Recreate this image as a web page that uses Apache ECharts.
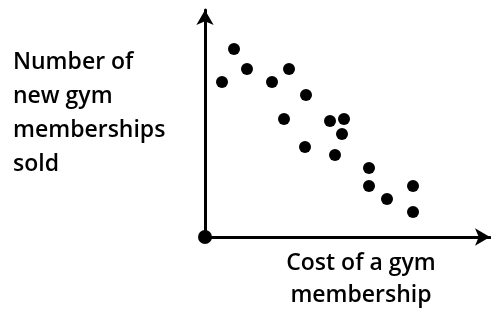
<!DOCTYPE html>
<html>
<head>
<meta charset="utf-8">
<script src="https://cdn.jsdelivr.net/npm/echarts@6/dist/echarts.min.js"></script>
<style>
  html, body { margin: 0; padding: 0; background: #fff; }
  #chart { width: 491px; height: 313px; }
</style>
</head>
<body>
<div id="chart"></div>
<script>
// cost (x) vs new memberships sold (y) in axis units
const cost = [17, 29, 42, 67, 84, 101, 79, 125, 139, 137, 100, 130, 164, 164, 182, 208, 208];
const sold = [155, 188, 168, 155, 168, 142, 118, 116, 118, 103, 90, 82, 69, 51, 38, 51, 25];
const yLabelLines = ["Number of", "new gym", "memberships", "sold"];
const xLabelLines = ["Cost of a gym", "membership"];

const chart = echarts.init(document.getElementById("chart"));
const font = "600 23px 'Open Sans'";

chart.setOption({
  backgroundColor: "#fff",
  animation: false,
  grid: { left: 205, right: 1, top: 10, bottom: 76 },
  xAxis: {
    type: "value",
    min: 0,
    max: 285,
    axisLine: {
      lineStyle: { color: "#000", width: 3 },
      symbol: ["none", "arrow"],
      symbolSize: [13, 15],
    },
    axisTick: { show: false },
    axisLabel: { show: false },
    splitLine: { show: false },
  },
  yAxis: {
    type: "value",
    min: 0,
    max: 227,
    axisLine: {
      show: true,
      lineStyle: { color: "#000", width: 3 },
      symbol: ["none", "arrow"],
      symbolSize: [13, 15],
    },
    axisTick: { show: false },
    axisLabel: { show: false },
    splitLine: { show: false },
  },
  graphic: [
    {
      type: "text",
      x: 13,
      y: 45,
      style: {
        text: yLabelLines.join("\n"),
        font: font,
        lineHeight: 34,
        fill: "#000",
      },
    },
    {
      type: "text",
      x: 361,
      y: 247,
      style: {
        text: xLabelLines.join("\n"),
        font: font,
        lineHeight: 32,
        align: "center",
        fill: "#000",
      },
    },
  ],
  series: [
    {
      type: "scatter",
      symbolSize: 12,
      itemStyle: { color: "#000", opacity: 1 },
      data: cost.map((c, i) => [c, sold[i]]),
    },
    {
      type: "scatter",
      symbolSize: 14,
      clip: false,
      itemStyle: { color: "#000", opacity: 1 },
      data: [[0, 0]],
    },
  ],
});
</script>
</body>
</html>
